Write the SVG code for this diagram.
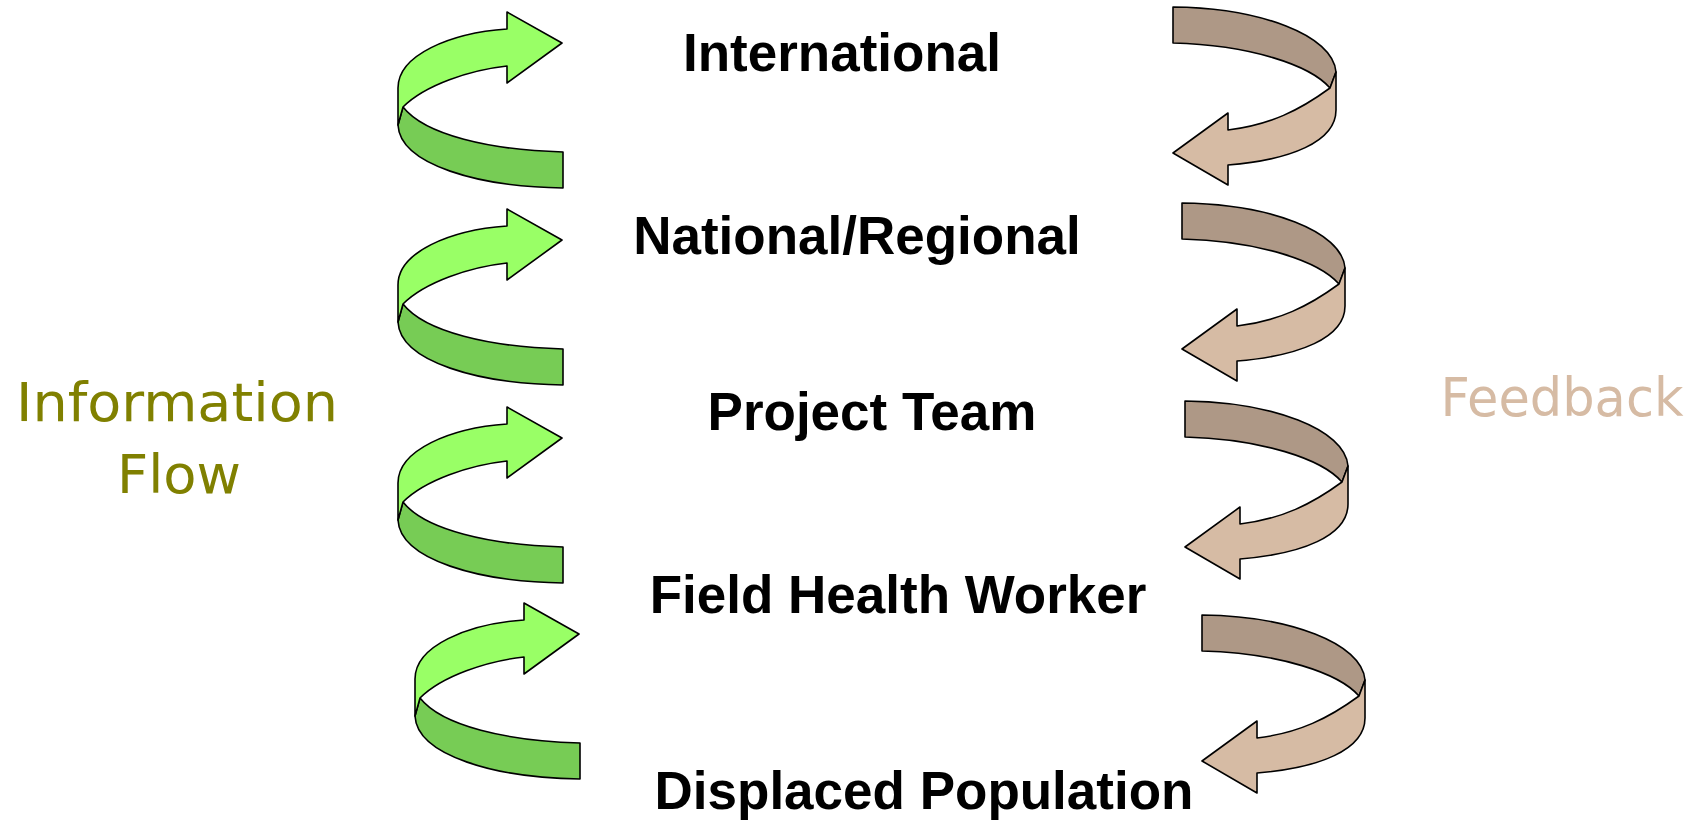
<svg xmlns="http://www.w3.org/2000/svg" xmlns:xlink="http://www.w3.org/1999/xlink" width="1700" height="820" viewBox="0 0 1700 820">
  <style>
    .level { font-family: "Liberation Sans", Arial, sans-serif; font-weight: bold; font-size: 53px; fill: #000; text-anchor: middle; }
    .side { font-family: "DejaVu Sans", sans-serif; font-size: 54px; text-anchor: middle; }
    .flow { fill: #808000; }
    .back { fill: #D6BBA4; }
    .edge { stroke: #000; stroke-width: 1.6; stroke-linejoin: round; }
    .g-front { fill: #99FF66; }
    .g-back { fill: #77CC55; }
    .b-front { fill: #D6BBA4; }
    .b-back { fill: #AE9886; }
  </style>
  <defs>
    <!-- twisted ribbon arrow curling up to the right -->
    <g id="upArrow">
      <path class="g-back edge" d="M403,107 C425,135 490,150 563,152 L563,188 C480,187 400,165 398,125 Z"/>
      <path class="g-front edge" d="M398,125 L398,88 C398,55 450,33 507,29 L507,12 L562,43 L507,83 L507,66 C470,70 425,85 403,107 Z"/>
    </g>
    <!-- twisted ribbon arrow curling down to the left -->
    <g id="downArrow">
      <path class="b-back edge" d="M1173,7 C1260,8 1333,35 1336,72 L1330,88 C1310,65 1250,45 1173,43 Z"/>
      <path class="b-front edge" d="M1336,72 L1330,88 C1300,110 1270,125 1228,130 L1228,113 L1173,153 L1228,185 L1228,165 C1290,160 1336,142 1336,110 Z"/>
    </g>
  </defs>

  <rect width="1700" height="820" fill="#fff"/>

  <g id="connectors">
    <use xlink:href="#upArrow"/>
    <use xlink:href="#upArrow" transform="translate(0,197)"/>
    <use xlink:href="#upArrow" transform="translate(0,395)"/>
    <use xlink:href="#upArrow" transform="translate(17,591)"/>
    <use xlink:href="#downArrow"/>
    <use xlink:href="#downArrow" transform="translate(9,196)"/>
    <use xlink:href="#downArrow" transform="translate(12,394)"/>
    <use xlink:href="#downArrow" transform="translate(29,608)"/>
  </g>

  <g id="international"><text class="level" x="842" y="71">International</text></g>
  <g id="national-regional"><text class="level" x="857" y="254">National/Regional</text></g>
  <g id="project-team"><text class="level" x="872" y="430">Project Team</text></g>
  <g id="field-health-worker"><text class="level" x="898" y="613">Field Health Worker</text></g>
  <g id="displaced-population"><text class="level" x="924" y="809">Displaced Population</text></g>

  <g id="information-flow">
    <text class="side flow" x="177" y="421" textLength="322" lengthAdjust="spacingAndGlyphs">Information</text>
    <text class="side flow" x="179" y="493" textLength="124" lengthAdjust="spacingAndGlyphs">Flow</text>
  </g>
  <g id="feedback">
    <text class="side back" x="1562" y="416" textLength="243" lengthAdjust="spacingAndGlyphs">Feedback</text>
  </g>
</svg>
